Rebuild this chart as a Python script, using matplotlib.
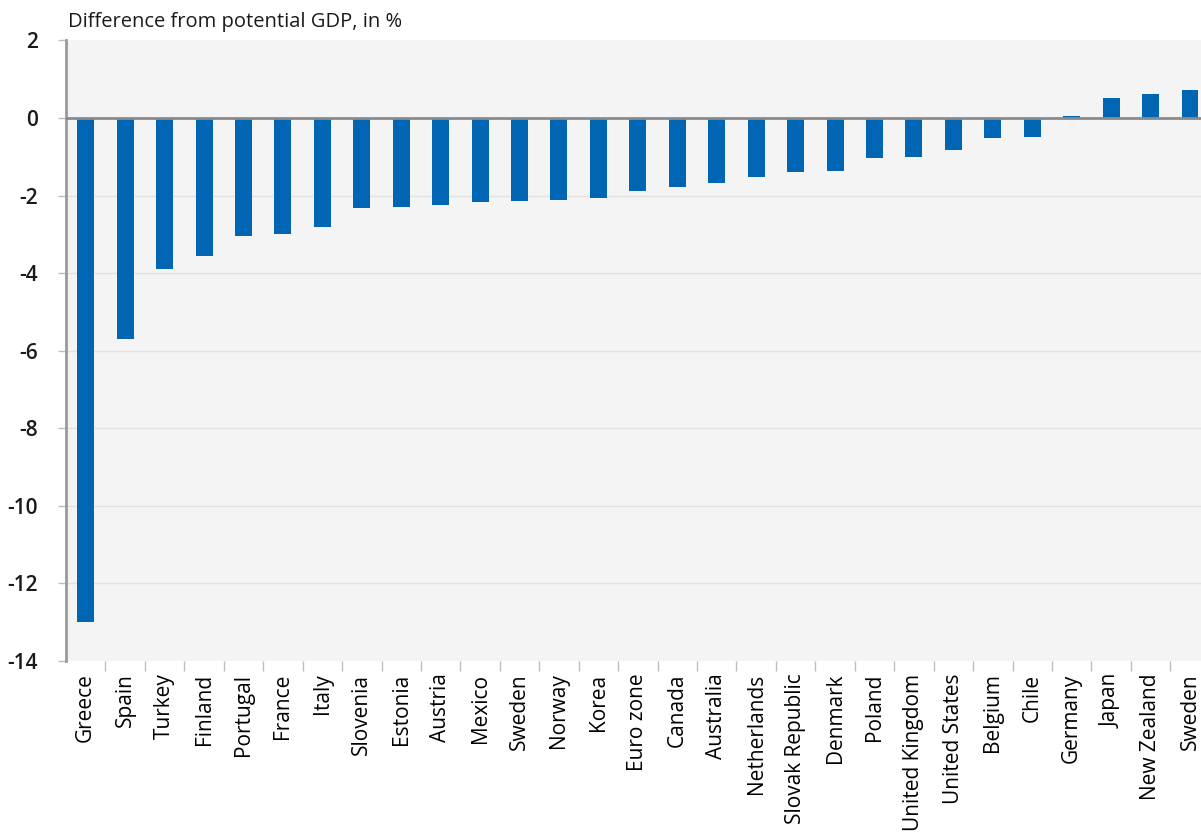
import numpy as np
import matplotlib.pyplot as plt
from matplotlib.ticker import FixedLocator

countries = ["Greece", "Spain", "Turkey", "Finland", "Portugal", "France", "Italy",
             "Slovenia", "Estonia", "Austria", "Mexico", "Sweden", "Norway", "Korea",
             "Euro zone", "Canada", "Australia", "Netherlands", "Slovak Republic",
             "Denmark", "Poland", "United Kingdom", "United States", "Belgium",
             "Chile", "Germany", "Japan", "New Zealand", "Sweden"]
gap = [-13.0, -5.7, -3.9, -3.57, -3.05, -3.0, -2.8,
       -2.33, -2.3, -2.24, -2.17, -2.13, -2.11, -2.07,
       -1.87, -1.79, -1.67, -1.53, -1.4,
       -1.37, -1.04, -1.01, -0.82, -0.51,
       -0.48, 0.05, 0.51, 0.62, 0.72]
yticks = [2, 0, -2, -4, -6, -8, -10, -12, -14]

plt.rcParams["font.family"] = ["Open Sans", "DejaVu Sans"]

W, H = 1201, 838
fig = plt.figure(figsize=(W / 100, H / 100), dpi=100)
left, right, top, bottom = 66, 1209.7, 40.4, 661
ax = fig.add_axes([left / W, 1 - bottom / H, (right - left) / W, (bottom - top) / H])
ax.set_facecolor("#f4f4f4")

x = np.arange(len(countries))
ax.bar(x, gap, width=0.43, color="#0066b3", zorder=3)

ax.set_xlim(-0.5, len(countries) - 0.5)
ax.set_ylim(-14, 2)
ax.set_yticks(yticks)
ax.set_yticklabels([str(t) for t in yticks], fontweight="semibold")
for t in yticks[2:-1]:
    ax.axhline(t, color="#e2e2e2", lw=1, zorder=1)
ax.axhline(0, color="#8a8a8a", lw=2, zorder=4)

ax.set_xticks(x)
ax.set_xticklabels(countries, rotation=90, va="top", ha="center")
ax.xaxis.set_minor_locator(FixedLocator(x[:-1] + 0.5))
ax.tick_params(axis="x", which="major", length=0, pad=9, labelsize=15, colors="black")
ax.tick_params(axis="x", which="minor", length=7, width=1, color="#bdbdbd")
ax.tick_params(axis="y", length=6, width=1, color="#bdbdbd", pad=14, labelsize=15,
               labelcolor="#1a1a1a")

for s in ["top", "right", "bottom"]:
    ax.spines[s].set_visible(False)
ax.spines["left"].set_color("#9a9a9a")
ax.spines["left"].set_linewidth(2)

fig.text(68 / W, 1 - 22 / H, "Difference from potential GDP, in %", fontsize=14.5,
         va="center", ha="left", color="#1a1a1a")

fig.savefig("out.png", dpi=100)
